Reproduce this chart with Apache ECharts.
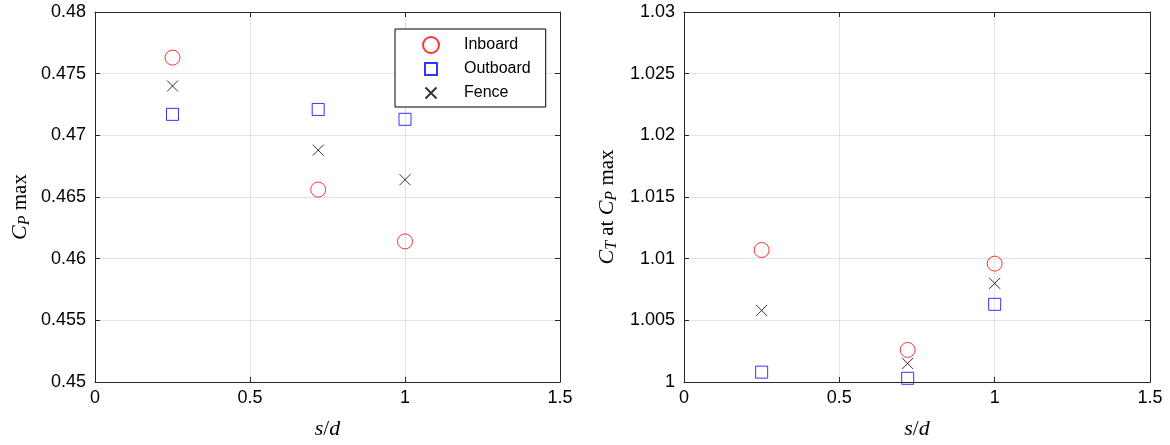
<!DOCTYPE html>
<html>
<head>
<meta charset="utf-8">
<script src="https://cdn.jsdelivr.net/npm/echarts@6/dist/echarts.min.js"></script>
<style>html,body{margin:0;padding:0;background:#fff;}#c{width:1170px;height:445px;}</style>
</head>
<body>
<div id="c"></div>
<script>
const sd = [0.25, 0.72, 1.0];
const cpInboard = [0.4763, 0.4656, 0.4614];
const cpOutboard = [0.4717, 0.4721, 0.4713];
const cpFence = [0.4740, 0.4688, 0.4664];
const ctInboard = [1.0107, 1.0026, 1.0096];
const ctOutboard = [1.0008, 1.0003, 1.0063];
const ctFence = [1.0058, 1.0015, 1.0080];
const seriesNames = ['Inboard', 'Outboard', 'Fence'];
const xTicks = { min: 0, max: 1.5, interval: 0.5 };
const yTicksL = { min: 0.45, max: 0.48, interval: 0.005 };
const yTicksR = { min: 1.0, max: 1.03, interval: 0.005 };

const axisColor = '#262626';
const labelFont = { fontFamily: 'Liberation Sans', fontSize: 18, color: '#000' };
const squarePath = 'path://M0,0L0,0M16,16L16,16M2,2L14,2L14,14L2,14Z';
const crossPath = 'path://M0,0L0,0M16,16L16,16M2.5,2.5L13.5,13.5M13.5,2.5L2.5,13.5';

function pairs(xs, ys) { return xs.map((x, i) => [x, ys[i]]); }

const richName = {
  i: { fontFamily: 'Liberation Serif', fontStyle: 'italic', fontSize: 22, color: '#000' },
  s: { fontFamily: 'Liberation Serif', fontStyle: 'italic', fontSize: 16, color: '#000', verticalAlign: 'bottom', padding: [10, 0, 0, 0] },
  n: { fontFamily: 'Liberation Serif', fontSize: 21, color: '#000' }
};

function mainX(g) {
  return { type: 'value', gridIndex: g, position: 'bottom', min: xTicks.min, max: xTicks.max, interval: xTicks.interval,
    axisLine: { show: true, onZero: false, lineStyle: { color: axisColor, width: 1 } },
    axisTick: { show: true, inside: true, length: 5, lineStyle: { color: axisColor } },
    axisLabel: Object.assign({ margin: 7, formatter: v => String(+v.toFixed(3)) }, labelFont),
    splitLine: { show: true, lineStyle: { color: '#e3e3e3', width: 1 } },
    name: '{i|s}{n|/}{i|d}', nameLocation: 'middle', nameGap: 36,
    nameTextStyle: { rich: richName }
  };
}
function topX(g) {
  return { type: 'value', gridIndex: g, position: 'top', min: xTicks.min, max: xTicks.max, interval: xTicks.interval,
    axisLine: { show: true, onZero: false, lineStyle: { color: axisColor, width: 1 } },
    axisTick: { show: true, inside: true, length: 5, lineStyle: { color: axisColor } },
    axisLabel: { show: false }, splitLine: { show: false } };
}
function mainY(g, t, name) {
  return { type: 'value', gridIndex: g, position: 'left', min: t.min, max: t.max, interval: t.interval,
    axisLine: { show: true, onZero: false, lineStyle: { color: axisColor, width: 1 } },
    axisTick: { show: true, inside: true, length: 5, lineStyle: { color: axisColor } },
    axisLabel: Object.assign({ margin: 9, formatter: v => String(+v.toFixed(4)) }, labelFont),
    splitLine: { show: true, lineStyle: { color: '#e3e3e3', width: 1 } },
    name: name, nameLocation: 'middle', nameRotate: 90, nameGap: g === 0 ? 62 : 64,
    nameTextStyle: { rich: richName, padding: [0, 20, 0, 0] }
  };
}
function rightY(g, t) {
  return { type: 'value', gridIndex: g, position: 'right', min: t.min, max: t.max, interval: t.interval,
    axisLine: { show: true, onZero: false, lineStyle: { color: axisColor, width: 1 } },
    axisTick: { show: true, inside: true, length: 5, lineStyle: { color: axisColor } },
    axisLabel: { show: false }, splitLine: { show: false } };
}

function mk(name, data, xi, yi) {
  const base = { name: name, type: 'scatter', xAxisIndex: xi, yAxisIndex: yi, data: data, z: 5, emphasis: { disabled: true } };
  if (name === 'Inboard') {
    base.symbol = 'circle'; base.symbolSize = 15;
    base.itemStyle = { color: 'rgba(0,0,0,0)', borderColor: '#ff0000', borderWidth: 1 };
  } else if (name === 'Outboard') {
    base.symbol = squarePath; base.symbolSize = 16;
    base.itemStyle = { color: 'rgba(0,0,0,0)', borderColor: '#0000ff', borderWidth: 1 };
  } else {
    base.symbol = crossPath; base.symbolSize = 16;
    base.itemStyle = { color: 'rgba(0,0,0,0)', borderColor: '#000000', borderWidth: 1 };
  }
  return base;
}

const option = {
  animation: false,
  backgroundColor: '#fff',
  grid: [
    { left: 95, top: 12, width: 465, height: 371 },
    { left: 684, top: 12, width: 466, height: 371 }
  ],
  xAxis: [mainX(0), topX(0), mainX(1), topX(1)],
  yAxis: [
    mainY(0, yTicksL, '{i|C}{s|P}{n| max}'), rightY(0, yTicksL),
    mainY(1, yTicksR, '{i|C}{s|T}{n| at }{i|C}{s|P}{n| max}'), rightY(1, yTicksR)
  ],
  legend: {
    data: seriesNames, orient: 'vertical', left: 395, top: 29,
    padding: [7, 15, 5, 27], itemGap: 6, itemWidth: 56, itemHeight: 16,
    backgroundColor: '#fff', borderColor: '#000', borderWidth: 1, borderRadius: 0,
    textStyle: { fontFamily: 'Liberation Sans', fontSize: 16, color: '#000' },
    selectedMode: false
  },
  series: [
    mk('Inboard', pairs(sd, cpInboard), 0, 0),
    mk('Outboard', pairs(sd, cpOutboard), 0, 0),
    mk('Fence', pairs(sd, cpFence), 0, 0),
    mk('Inboard', pairs(sd, ctInboard), 2, 2),
    mk('Outboard', pairs(sd, ctOutboard), 2, 2),
    mk('Fence', pairs(sd, ctFence), 2, 2)
  ]
};
const chart = echarts.init(document.getElementById('c'));
chart.setOption(option);
</script>
</body>
</html>
